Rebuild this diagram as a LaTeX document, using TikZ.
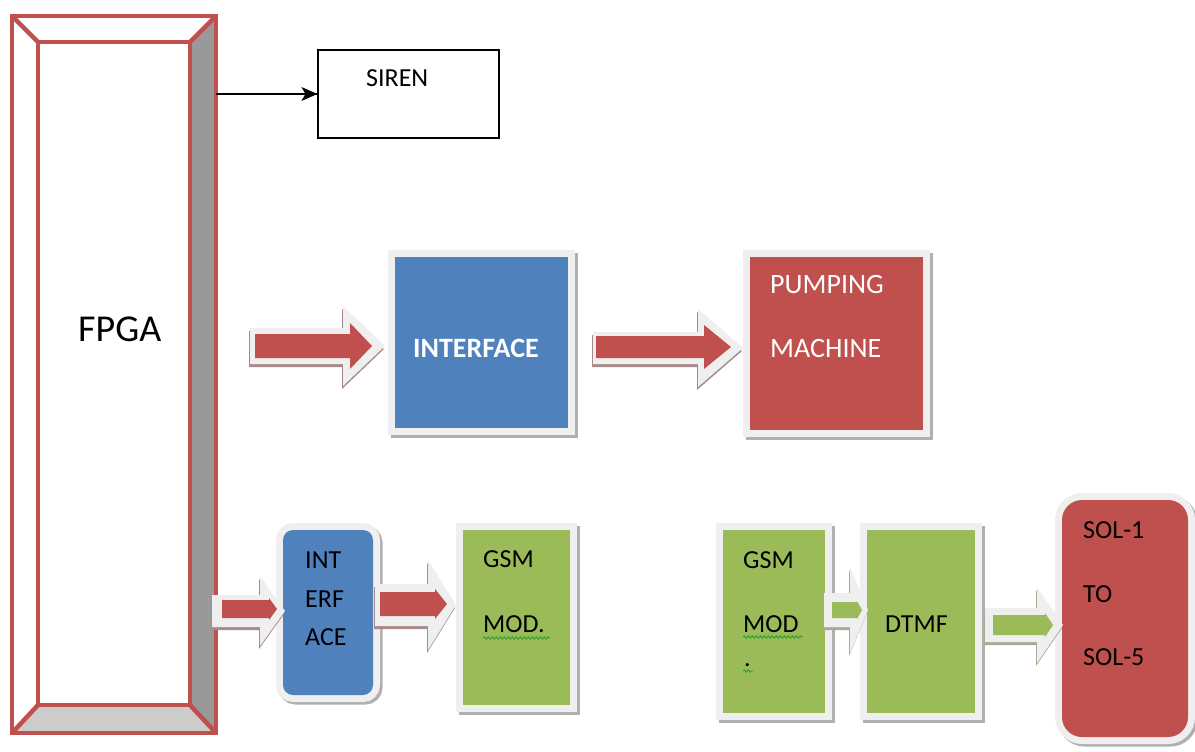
\documentclass[tikz,border=0pt]{standalone}
\usepackage{fontspec}
\setmainfont{Carlito}
\usetikzlibrary{arrows.meta,decorations.pathmorphing}
\definecolor{fred}{HTML}{C0504D}
\definecolor{fblue}{HTML}{4F81BD}
\definecolor{fgreen}{HTML}{9BBB59}
\definecolor{glowc}{HTML}{EFEFEF}
\definecolor{boxshadow}{HTML}{B0B0B0}
\definecolor{redshadow}{HTML}{A98A8A}
\definecolor{greenshadow}{HTML}{A3AD95}
\definecolor{bevdark}{HTML}{999999}
\definecolor{bevlight}{HTML}{CCCCCC}
\definecolor{spellc}{HTML}{2E9E2E}
% block arrow: style, x start, x tip, y, shaft half, head half, head length
\newcommand\barr[7]{\fill[#1] (#2,#4-#5) -- (#3-#7,#4-#5) -- (#3-#7,#4-#6) -- (#3,#4) -- (#3-#7,#4+#6) -- (#3-#7,#4+#5) -- (#2,#4+#5) -- cycle;}
\tikzset{
  glowbox/.style={inner sep=0pt, fill=#1,
    preaction={draw=boxshadow, line width=14pt, transform canvas={shift={(2.5pt,-2.5pt)}}},
    preaction={draw=glowc, line width=14pt}},
  lbl/.style={anchor=base west, inner sep=0pt, font=\fontsize{26}{26}\selectfont},
  biglbl/.style={anchor=base west, inner sep=0pt, text=white, font=\fontsize{28}{28}\selectfont},
  spell/.style={draw=spellc, line width=0.9pt, decorate, decoration={snake, amplitude=1.2pt, segment length=4pt}},
  fpgaline/.style={draw=fred, line width=4.5pt, line join=miter}
}
\begin{document}
\begin{tikzpicture}[x=1pt,y=-1pt]
\useasboundingbox (0,0) rectangle (1195,752);
% ---------- FPGA bevelled frame ----------
\fill[white] (12,16) -- (216,16) -- (190,42) -- (38,42) -- cycle;
\fill[white] (12,16) -- (38,42) -- (38,705) -- (12,733) -- cycle;
\fill[bevdark] (216,16) -- (216,733) -- (190,705) -- (190,42) -- cycle;
\fill[bevlight] (12,733) -- (216,733) -- (190,705) -- (38,705) -- cycle;
\draw[fpgaline] (12,16) rectangle (216,733);
\draw[fpgaline] (38,42) rectangle (190,705);
\draw[fpgaline] (12,16) -- (38,42) (216,16) -- (190,42) (12,733) -- (38,705) (216,733) -- (190,705);
\node[minimum width=204pt, minimum height=717pt, inner sep=0pt] (fpga) at (114,374.5) {};
\node[anchor=base west, inner sep=0pt, font=\fontsize{38}{38}\selectfont] (fpgatxt) at (78,341) {FPGA};
% ---------- SIREN ----------
\node[draw=black, line width=1.2pt, minimum width=181pt, minimum height=88pt, inner sep=0pt] (siren) at (408.5,94) {};
\node[lbl] (sirentxt) at (366,87) {SIREN};
\draw[line width=1.3pt] (fpga.east |- siren.west) -- (siren.west);
\fill[shift={(siren.west)}] (-16,-7) -- (0,0) -- (-16,7) -- (-12,0) -- cycle;
% ---------- boxes ----------
\node[glowbox=fblue, minimum width=173pt, minimum height=171pt] (iface) at (481.5,342.5) {};
\node[biglbl, font=\bfseries\fontsize{28}{28}\selectfont] (ifacetxt) at (413,357) {INTERFACE};
\node[glowbox=fred, minimum width=173pt, minimum height=173pt] (pump) at (836.5,343.5) {};
\node[biglbl] (pump1) at (770,293) {PUMPING};
\node[biglbl] (pump2) at (770,357) {MACHINE};
\node[glowbox=fblue, rounded corners=10pt, minimum width=90pt, minimum height=165pt] (iface2) at (328,612.5) {};
\node[lbl] (i1) at (305,568) {INT};
\node[lbl] (i2) at (305,607) {ERF};
\node[lbl] (i3) at (305,645) {ACE};
\node[glowbox=fgreen, minimum width=107pt, minimum height=175pt] (gsm1) at (516.5,617.5) {};
\node[lbl] (g11) at (483,567) {GSM};
\node[lbl] (g12) at (483,632) {MOD.};
\draw[spell] (483,638) -- (550,638);
\node[glowbox=fgreen, minimum width=102pt, minimum height=183pt] (gsm2) at (774,621.5) {};
\node[lbl] (g21) at (743,568) {GSM};
\node[lbl] (g22) at (743,632) {MOD};
\draw[spell] (743,637) -- (803,637);
\node[lbl] (g23) at (744,666) {.};
\draw[spell] (743,671) -- (753,671);
\node[glowbox=fgreen, minimum width=108pt, minimum height=183pt] (dtmf) at (921,621.5) {};
\node[lbl] (dtmftxt) at (885,632) {DTMF};
\node[glowbox=fred, rounded corners=20pt, minimum width=126pt, minimum height=237pt] (sol) at (1125,618.5) {};
\node[lbl] (s1) at (1083,538) {SOL-1};
\node[lbl] (s2) at (1083,602) {TO};
\node[lbl] (s3) at (1083,665) {SOL-5};
% ---------- block arrows ----------
% FPGA -> INTERFACE
\barr{redshadow, shift={(-1,3)}}{250}{385}{346}{18}{40}{42}
\barr{glowc}{250}{385}{346}{18}{40}{42}
\barr{fred}{255}{372}{346}{12}{23}{22}
% INTERFACE -> PUMPING MACHINE
\barr{redshadow, shift={(-1,3)}}{593}{743}{348}{16}{39}{45}
\barr{glowc}{593}{743}{348}{16}{39}{45}
\barr{fred}{596}{731}{347}{11}{22}{27}
% FPGA -> INT ERF ACE
\barr{redshadow, shift={(-1,3)}}{212}{285}{611}{16}{35}{25}
\barr{glowc}{212}{285}{611}{16}{35}{25}
\barr{fred}{222}{277}{609}{9}{11}{8}
% INT ERF ACE -> GSM MOD.
\barr{redshadow, shift={(-1,3)}}{375}{456}{605}{21}{45}{28}
\barr{glowc}{375}{456}{605}{21}{45}{28}
\barr{fred}{380}{447}{604}{12}{15}{12}
% GSM MOD -> DTMF
\barr{greenshadow, shift={(-1,3)}}{824}{868}{610}{17}{43}{18}
\barr{glowc}{824}{868}{610}{17}{43}{18}
\barr{fgreen}{832}{862}{610}{8}{9}{5}
% DTMF -> SOL
\barr{greenshadow, shift={(-1,3)}}{985}{1063}{625}{17}{38}{26}
\barr{glowc}{985}{1063}{625}{17}{38}{26}
\barr{fgreen}{993}{1053}{625}{10}{12}{8}
\end{tikzpicture}
\end{document}
